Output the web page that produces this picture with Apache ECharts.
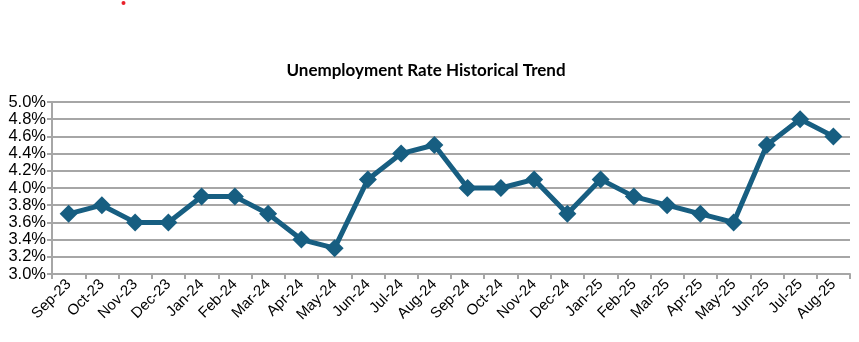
<!DOCTYPE html>
<html>
<head>
<meta charset="utf-8">
<script src="https://cdn.jsdelivr.net/npm/echarts@6/dist/echarts.min.js"></script>
<style>
  html, body { margin: 0; padding: 0; background: #fff; }
  #chart { width: 859px; height: 342px; }
</style>
</head>
<body>
<div id="chart"></div>
<script>
// Monthly unemployment rate, Sep 2023 – Aug 2025
const months = ['Sep-23','Oct-23','Nov-23','Dec-23','Jan-24','Feb-24','Mar-24','Apr-24','May-24','Jun-24','Jul-24','Aug-24',
                'Sep-24','Oct-24','Nov-24','Dec-24','Jan-25','Feb-25','Mar-25','Apr-25','May-25','Jun-25','Jul-25','Aug-25'];
const unemploymentRate = [3.7, 3.8, 3.6, 3.6, 3.9, 3.9, 3.7, 3.4, 3.3, 4.1, 4.4, 4.5,
                          4.0, 4.0, 4.1, 3.7, 4.1, 3.9, 3.8, 3.7, 3.6, 4.5, 4.8, 4.6];
const yMin = 3.0, yMax = 5.0, yStep = 0.2;

const chart = echarts.init(document.getElementById('chart'), null, { renderer: 'canvas' });
chart.setOption({
  backgroundColor: '#ffffff',
  animation: false,
  title: {
    text: 'Unemployment Rate Historical Trend',
    left: 421, top: 57, textAlign: 'center',
    textStyle: { fontFamily: 'Lato', fontWeight: 'bold', fontSize: 17, color: '#000' }
  },
  graphic: [{
    type: 'circle', shape: { cx: 123.5, cy: 3, r: 2 }, style: { fill: '#e8202a' }
  }],
  grid: { left: 52, right: 9, top: 102, bottom: 68, containLabel: false },
  xAxis: {
    type: 'category',
    data: months,
    boundaryGap: true,
    axisLine: { lineStyle: { color: '#a6a6a6', width: 2 } },
    axisTick: { show: true, length: 5, lineStyle: { color: '#a6a6a6', width: 2 } },
    axisLabel: { interval: 0, rotate: 45, margin: 8, fontFamily: 'Liberation Sans', fontSize: 15, color: '#000' }
  },
  yAxis: {
    type: 'value',
    min: yMin, max: yMax, interval: yStep,
    axisLine: { show: true, lineStyle: { color: '#a6a6a6', width: 2 } },
    axisTick: { show: true, length: 5, lineStyle: { color: '#a6a6a6', width: 2 } },
    splitLine: { lineStyle: { color: '#a6a6a6', width: 2 } },
    axisLabel: {
      margin: 6, fontFamily: 'Liberation Sans', fontSize: 16.5, color: '#000',
      formatter: v => v.toFixed(1) + '%'
    }
  },
  series: [{
    type: 'line',
    data: unemploymentRate,
    symbol: 'diamond',
    symbolSize: 18,
    lineStyle: { color: '#175e81', width: 5 },
    itemStyle: { color: '#175e81' }
  }]
});
</script>
</body>
</html>
